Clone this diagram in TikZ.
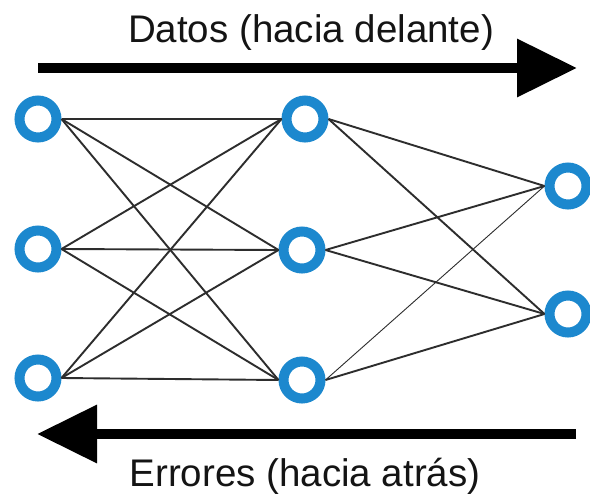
\documentclass[tikz,border=0pt]{standalone}
\usepackage{fontspec}
\setmainfont{Liberation Sans}
\usetikzlibrary{arrows.meta}
\definecolor{ringblue}{RGB}{28,136,206}
\definecolor{wire}{RGB}{45,45,45}
\tikzset{
  neuron/.style={circle,draw=ringblue,line width=10pt,minimum size=37pt,inner sep=0pt,fill=white},
  wireline/.style={draw=wire,line width=1.9pt},
  thinwire/.style={draw=wire,line width=0.9pt},
  bigarrow/.style={line width=10pt,-{Triangle[length=60pt,width=56pt]}},
  caption/.style={font=\fontsize{38.5}{41}\selectfont,text=black!92,inner sep=0pt}
}
\begin{document}
\begin{tikzpicture}[x=1pt,y=-1pt]
\useasboundingbox[fill=white] (0,0) rectangle (590,498);
% nodes
\node[neuron] (L1) at (38,119) {};
\node[neuron] (L2) at (38,249) {};
\node[neuron] (L3) at (38,378) {};
\node[neuron] (M1) at (305,119) {};
\node[neuron] (M2) at (302,250) {};
\node[neuron] (M3) at (302,380) {};
\node[neuron] (R1) at (568,186) {};
\node[neuron] (R2) at (568,314) {};
% connections
\foreach \a in {L1,L2,L3}{
  \foreach \b in {M1,M2,M3}{
    \draw[wireline] (\a.east) -- (\b.west);
  }
}
\draw[wireline] (M1.east) -- (R1.west);
\draw[wireline] (M1.east) -- (R2.west);
\draw[wireline] (M2.east) -- (R1.west);
\draw[wireline] (M2.east) -- (R2.west);
\draw[thinwire] (M3.east) -- (R1.west);
\draw[wireline] (M3.east) -- (R2.west);
% arrows
\coordinate (ftail) at (38,68);
\coordinate (fhead) at (577,68);
\coordinate (btail) at (576,434);
\coordinate (bhead) at (37,434);
\draw[bigarrow] (ftail) -- (fhead);
\draw[bigarrow] (btail) -- (bhead);
% captions
\node[caption] (tdat) at (311,33) {Datos (hacia delante)};
\node[caption] (terr) at (305,476) {Errores (hacia atrás)};
\end{tikzpicture}
\end{document}
